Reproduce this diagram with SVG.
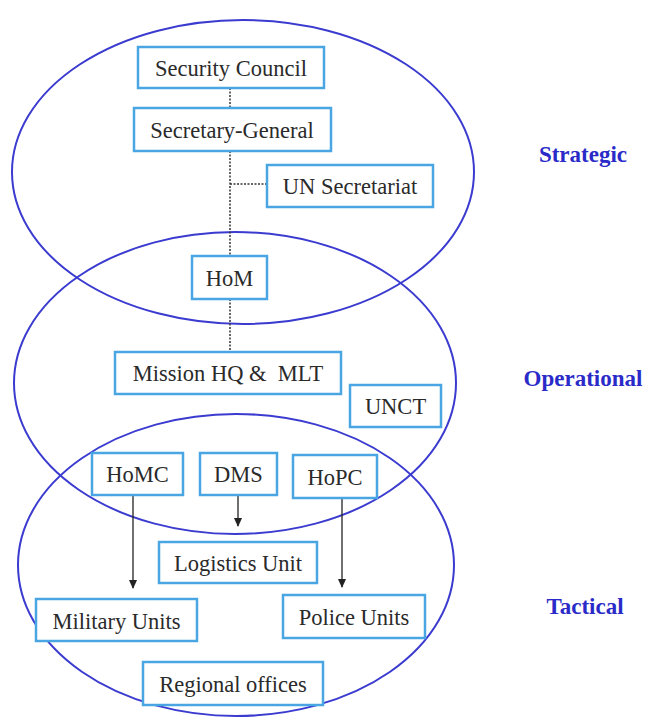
<svg xmlns="http://www.w3.org/2000/svg" width="648" height="720" viewBox="0 0 648 720">
<defs>
<marker id="arr" markerWidth="10" markerHeight="10" refX="8" refY="5" orient="auto" markerUnits="userSpaceOnUse">
<path d="M0,1 L9,5 L0,9 Z" fill="#222"/>
</marker>
</defs>
<style>
.ell{fill:none;stroke:#3b3bd0;stroke-width:2}
.box{fill:#fff;stroke:#4aa6e2;stroke-width:2.5}
.t{font-family:"Liberation Serif","Times New Roman",serif;font-size:22.5px;fill:#2a2a2a;text-anchor:middle;dominant-baseline:central}
.lvl{font-family:"Liberation Serif","Times New Roman",serif;font-size:23px;font-weight:bold;fill:#2a2ac8;text-anchor:middle}
.dot{fill:none;stroke:#333;stroke-width:1.5;stroke-dasharray:2,1.5}
.ar{fill:none;stroke:#222;stroke-width:1.3;marker-end:url(#arr)}
</style>
<rect width="648" height="720" fill="#fff"/>
<g id="levels">
<ellipse class="ell" cx="243" cy="172" rx="231" ry="152"/>
<ellipse class="ell" cx="235" cy="383" rx="221" ry="151"/>
<ellipse class="ell" cx="236" cy="565" rx="218" ry="151"/>
</g>
<g id="connectors">
<line class="dot" x1="230" y1="88" x2="230" y2="108"/>
<line class="dot" x1="230" y1="151" x2="230" y2="256"/>
<line class="dot" x1="230" y1="184" x2="267" y2="184"/>
<line class="dot" x1="230" y1="299" x2="230" y2="352"/>
<line class="ar" x1="133" y1="495" x2="133" y2="588"/>
<line class="ar" x1="238" y1="495" x2="238" y2="526"/>
<line class="ar" x1="342" y1="498" x2="342" y2="587"/>
</g>
<g id="security-council"><rect class="box" x="138" y="47" width="186" height="41"/><text class="t" x="231" y="68">Security Council</text></g>
<g id="secretary-general"><rect class="box" x="134" y="108" width="197" height="43"/><text class="t" x="232" y="130">Secretary-General</text></g>
<g id="un-secretariat"><rect class="box" x="267" y="165" width="166" height="42"/><text class="t" x="350" y="186">UN Secretariat</text></g>
<g id="hom"><rect class="box" x="192" y="256" width="75" height="43"/><text class="t" x="229.5" y="278">HoM</text></g>
<g id="mission-hq"><rect class="box" x="115" y="352" width="226" height="42"/><text class="t" x="228" y="373">Mission HQ &amp;&#160; MLT</text></g>
<g id="unct"><rect class="box" x="350" y="385" width="91" height="42"/><text class="t" x="395.5" y="406">UNCT</text></g>
<g id="homc"><rect class="box" x="92" y="453" width="91" height="42"/><text class="t" x="137.5" y="474">HoMC</text></g>
<g id="dms"><rect class="box" x="200" y="453" width="77" height="42"/><text class="t" x="238.5" y="474">DMS</text></g>
<g id="hopc"><rect class="box" x="293" y="455" width="84" height="43"/><text class="t" x="335" y="477">HoPC</text></g>
<g id="logistics-unit"><rect class="box" x="159" y="542" width="158" height="41"/><text class="t" x="238" y="563">Logistics Unit</text></g>
<g id="military-units"><rect class="box" x="36" y="599" width="161" height="42"/><text class="t" x="116.5" y="621">Military Units</text></g>
<g id="police-units"><rect class="box" x="283" y="595" width="142" height="43"/><text class="t" x="354" y="617">Police Units</text></g>
<g id="regional-offices"><rect class="box" x="143" y="662" width="180" height="43"/><text class="t" x="233" y="684">Regional offices</text></g>
<g id="labels">
<text class="lvl" x="583" y="162">Strategic</text>
<text class="lvl" x="583" y="386">Operational</text>
<text class="lvl" x="585" y="614">Tactical</text>
</g>
</svg>
